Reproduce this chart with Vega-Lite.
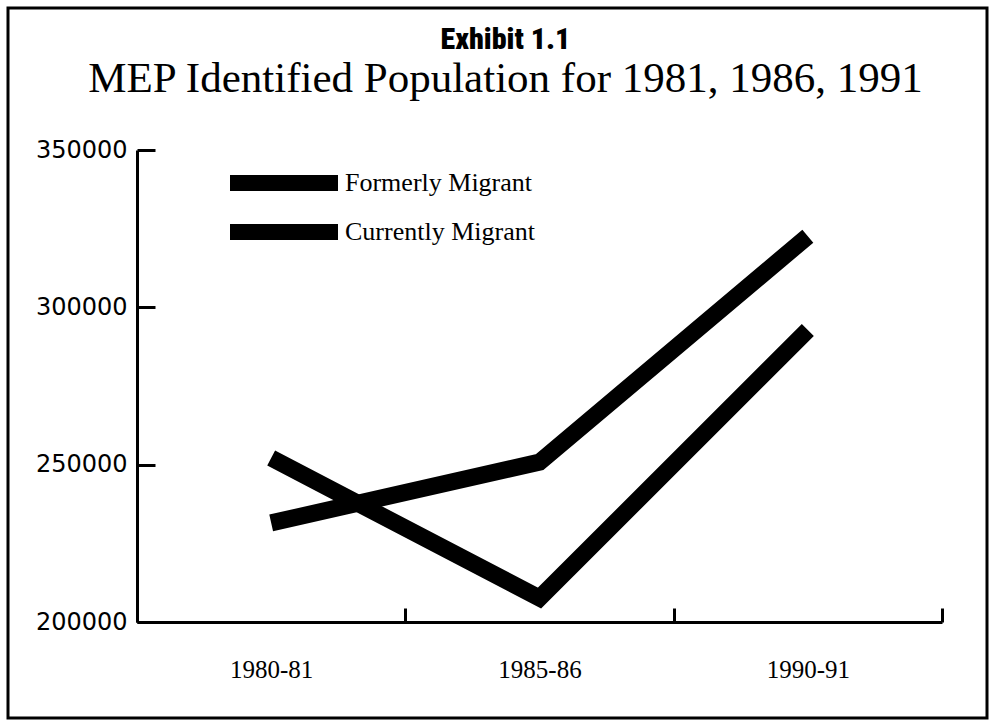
{
  "$schema": "https://vega.github.io/schema/vega-lite/v6.json",
  "width": 979,
  "height": 710,
  "autosize": {"type": "none"},
  "padding": {"left": 8, "top": 8, "right": 2, "bottom": 7},
  "background": "white",
  "title": {
    "text": "Exhibit 1.1",
    "subtitle": "MEP Identified Population for 1981, 1986, 1991",
    "anchor": "middle",
    "frame": "group",
    "offset": -93,
    "font": "Liberation Sans Narrow, Roboto Condensed, Roboto",
    "fontWeight": 900,
    "fontSize": 30,
    "color": "black",
    "subtitleFont": "Liberation Serif",
    "subtitleFontSize": 43,
    "subtitleColor": "black",
    "subtitlePadding": 3,
    "dx": 8
  },
  "data": {
    "values": [
      {"year": "1980-81", "series": "Formerly Migrant", "population": 231500},
      {"year": "1985-86", "series": "Formerly Migrant", "population": 250800},
      {"year": "1990-91", "series": "Formerly Migrant", "population": 322600},
      {"year": "1980-81", "series": "Currently Migrant", "population": 252100},
      {"year": "1985-86", "series": "Currently Migrant", "population": 207600},
      {"year": "1990-91", "series": "Currently Migrant", "population": 292800}
    ]
  },
  "mark": {"type": "line", "strokeWidth": 17, "strokeJoin": "miter", "strokeCap": "butt", "clip": false},
  "encoding": {
    "x": {
      "field": "year",
      "type": "ordinal",
      "sort": null,
      "scale": {"type": "band", "range": [129, 934], "paddingInner": 0, "paddingOuter": 0},
      "axis": {
        "title": null,
        "orient": "bottom",
        "offset": -96,
        "tickBand": "extent",
        "labelAngle": 0,
        "domainColor": "black",
        "domainWidth": 3,
        "tickColor": "black",
        "tickWidth": 3,
        "tickSize": -14,
        "labelPadding": 49,
        "labelFont": "Liberation Serif",
        "labelFontSize": 25,
        "labelColor": "black",
        "grid": false
      }
    },
    "y": {
      "field": "population",
      "type": "quantitative",
      "scale": {"domain": [200000, 350000], "range": [614, 142], "nice": false, "zero": false},
      "axis": {
        "title": null,
        "orient": "left",
        "offset": -129,
        "values": [200000, 250000, 300000, 350000],
        "format": "d",
        "domainColor": "black",
        "domainWidth": 3,
        "tickColor": "black",
        "tickWidth": 3,
        "tickSize": -18,
        "labelPadding": 28,
        "labelFont": "DejaVu Sans",
        "labelFontSize": 24,
        "labelColor": "black",
        "grid": false
      }
    },
    "color": {
      "field": "series",
      "type": "nominal",
      "scale": {"domain": ["Formerly Migrant", "Currently Migrant"], "range": ["black", "black"]},
      "legend": {
        "orient": "none",
        "legendX": 259,
        "legendY": 158,
        "title": null,
        "symbolType": "M-6,0H6",
        "symbolSize": 324,
        "symbolStrokeWidth": 16,
        "symbolStrokeColor": "black",
        "symbolFillColor": "transparent",
        "labelFont": "Liberation Serif",
        "labelFontSize": 26,
        "labelColor": "black",
        "labelLimit": 400,
        "rowPadding": -34,
        "labelOffset": 44
      }
    }
  },
  "config": {"view": {"stroke": "black", "strokeWidth": 3}}
}
